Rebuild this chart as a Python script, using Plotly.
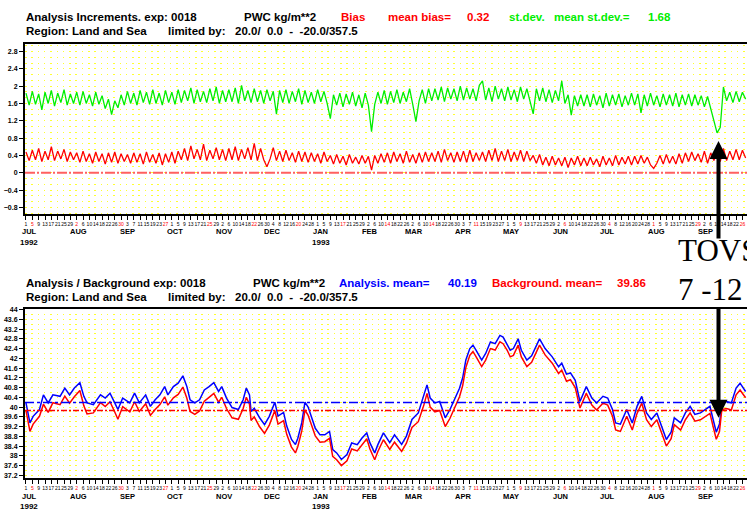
import plotly.graph_objects as go
from datetime import datetime, timedelta

W, H = 747, 511
START = datetime(1992, 7, 1)
X_RANGE = ["1992-06-30 09:00", "1993-09-28 21:00"]

# analysis increments, one sample every 2 days from 1 Jul 1992
INC_STEP_DAYS = 2
stdev_values = [
    1.84, 1.56, 1.88, 1.58, 1.82, 1.45, 1.86, 1.60, 1.90, 1.54, 1.84, 1.62, 1.92, 1.56, 1.82, 1.60,
    1.86, 1.56, 1.88, 1.60, 1.80, 1.54, 1.86, 1.58, 1.78, 1.48, 1.70, 1.34, 1.66, 1.50, 1.80, 1.56,
    1.88, 1.60, 1.84, 1.56, 1.90, 1.62, 1.86, 1.58, 1.92, 1.60, 1.84, 1.56, 1.90, 1.62, 1.86, 1.58,
    1.92, 1.62, 1.90, 1.66, 1.96, 1.60, 1.92, 1.64, 1.88, 1.62, 1.94, 1.66, 1.98, 1.60, 1.90, 1.64,
    1.92, 1.64, 1.96, 1.60, 2.02, 1.66, 1.90, 1.62, 1.94, 1.64, 1.90, 1.60, 1.92, 1.66, 1.88, 1.35,
    1.90, 1.62, 1.92, 1.60, 1.88, 1.64, 1.94, 1.58, 1.90, 1.62, 1.86, 1.60, 1.92, 1.64, 1.88, 1.60,
    1.25, 1.80, 1.56, 1.84, 1.52, 1.82, 1.58, 1.86, 1.54, 1.80, 1.50, 1.84, 1.56, 0.95, 1.58, 1.86,
    1.60, 1.90, 1.58, 1.88, 1.62, 1.92, 1.60, 1.86, 1.64, 1.94, 1.58, 1.18, 1.66, 1.92, 1.60, 1.94,
    1.66, 1.94, 1.68, 1.98, 1.64, 1.96, 1.70, 1.94, 1.66, 2.00, 1.68, 1.96, 1.70, 1.94, 1.66, 2.02,
    2.12, 1.68, 1.96, 1.64, 2.00, 1.70, 1.94, 1.66, 1.98, 1.68, 1.92, 1.64, 1.98, 1.70, 1.94, 1.66,
    1.36, 1.94, 1.66, 1.96, 1.64, 1.92, 1.62, 1.90, 1.66, 2.12, 1.60, 1.80, 1.33, 1.78, 1.54, 1.80,
    1.54, 1.80, 1.52, 1.82, 1.56, 1.78, 1.50, 1.84, 1.54, 1.80, 1.56, 1.82, 1.52, 1.78, 1.56, 1.84,
    1.56, 1.82, 1.38, 1.80, 1.54, 1.84, 1.56, 1.78, 1.52, 1.82, 1.56, 1.80, 1.54, 1.84, 1.52, 1.80,
    1.56, 1.82, 1.54, 1.80, 1.56, 1.78, 1.52, 1.76, 1.50, 1.18, 0.92, 1.05, 1.98, 1.66, 1.86, 1.62,
    1.88, 1.64, 1.86, 1.70,
]
bias_values = [
    0.48, 0.28, 0.52, 0.30, 0.56, 0.26, 0.50, 0.30, 0.60, 0.28, 0.50, 0.32, 0.54, 0.26, 0.48, 0.30,
    0.46, 0.24, 0.50, 0.26, 0.44, 0.22, 0.48, 0.26, 0.44, 0.20, 0.46, 0.24, 0.48, 0.22, 0.44, 0.26,
    0.42, 0.22, 0.46, 0.24, 0.44, 0.20, 0.48, 0.24, 0.42, 0.22, 0.46, 0.18, 0.44, 0.24, 0.48, 0.22,
    0.50, 0.30, 0.56, 0.28, 0.62, 0.32, 0.54, 0.30, 0.66, 0.28, 0.52, 0.32, 0.58, 0.30, 0.54, 0.28,
    0.56, 0.30, 0.60, 0.28, 0.54, 0.32, 0.58, 0.30, 0.68, 0.28, 0.56, 0.30, 0.14, 0.32, 0.58, 0.28,
    0.50, 0.26, 0.52, 0.28, 0.46, 0.24, 0.50, 0.26, 0.48, 0.24, 0.46, 0.26, 0.44, 0.22, 0.48, 0.26,
    0.40, 0.20, 0.42, 0.22, 0.38, 0.18, 0.42, 0.22, 0.36, 0.20, 0.40, 0.22, 0.38, 0.06, 0.40, 0.22,
    0.44, 0.24, 0.46, 0.22, 0.48, 0.26, 0.44, 0.22, 0.50, 0.24, 0.42, 0.22, 0.46, 0.24, 0.48, 0.26,
    0.46, 0.26, 0.50, 0.24, 0.54, 0.28, 0.46, 0.24, 0.48, 0.26, 0.50, 0.24, 0.52, 0.26, 0.46, 0.28,
    0.48, 0.26, 0.52, 0.28, 0.56, 0.26, 0.50, 0.28, 0.54, 0.26, 0.48, 0.28, 0.52, 0.26, 0.50, 0.28,
    0.40, 0.22, 0.42, 0.18, 0.36, 0.16, 0.38, 0.18, 0.34, 0.16, 0.36, 0.12, 0.34, 0.18, 0.38, 0.16,
    0.34, 0.16, 0.36, 0.18, 0.32, 0.14, 0.38, 0.18, 0.34, 0.16, 0.40, 0.18, 0.36, 0.20, 0.38, 0.18,
    0.38, 0.20, 0.40, 0.22, 0.36, 0.18, 0.10, 0.22, 0.40, 0.20, 0.42, 0.22, 0.38, 0.20, 0.44, 0.22,
    0.46, 0.26, 0.48, 0.28, 0.44, 0.24, 0.50, 0.22, 0.46, 0.28, 0.52, 0.26, 0.56, 0.28, 0.50, 0.30,
    0.54, 0.30, 0.52, 0.34,
]

# analysis / background, days after 1 Jul 1992
ab_days = [
    0, 2.5, 4.5, 8.5, 11, 14, 17, 21.5, 24.5, 27.5,
    30.5, 34, 36.5, 38.5, 42.5, 47, 50, 53, 56, 58,
    61, 65.5, 68.5, 71.5, 75.5, 78.5, 81.5, 84.5, 87.5, 89.5,
    93, 96, 99, 101.5, 103.5, 106.5, 109.5, 112.5, 115.5, 118.5,
    121.5, 123.5, 126.5, 130, 134, 137, 139, 141, 142, 144,
    147.5, 150.5, 153.5, 157, 159, 162.5, 164.5, 167.5, 170, 171.5,
    174, 176, 178, 180, 182.5, 185.5, 188.5, 191.5, 193.5, 196,
    199, 202.5, 205.5, 209, 212, 215, 217, 220, 222, 225.5,
    229.5, 232.5, 237, 240, 243.5, 247.5, 251, 253, 255, 258,
    261, 264.5, 267.5, 270.5, 273.5, 275.5, 277.5, 280, 282, 284,
    287.5, 290, 293, 296, 299, 301, 303.5, 305.5, 307.5, 310.5,
    312.5, 316, 319, 321, 324, 327.5, 332, 336, 338, 341,
    343.5, 346.5, 349.5, 353.5, 357, 360, 364, 367, 370, 372,
    375, 379, 382.5, 385.5, 388.5, 391.5, 394.5, 398, 401, 404,
    407, 409, 413, 416, 419, 422, 425.5, 428.5, 431.5, 433.5,
    435.5, 437.5, 439, 442, 445, 448, 450.5, 454,
]
analysis_values = [
    40.17, 39.35, 39.62, 39.90, 40.50, 40.17, 40.50, 40.44, 40.78, 40.50,
    40.78, 41.00, 40.44, 40.17, 40.10, 40.50, 40.37, 40.57, 40.17, 39.90,
    40.37, 40.17, 40.57, 40.17, 40.50, 40.03, 40.30, 40.50, 40.84, 40.50,
    40.84, 40.98, 41.28, 40.84, 40.30, 40.17, 40.30, 40.70, 40.84, 41.00,
    40.64, 40.84, 40.37, 39.98, 39.90, 40.30, 40.78, 40.50, 39.82, 39.95,
    39.55, 39.28, 39.62, 40.20, 39.63, 39.78, 39.22, 38.67, 38.46, 38.72,
    39.36, 40.20, 40.00, 39.63, 39.13, 38.86, 38.86, 39.00, 38.26, 38.12,
    37.85, 38.05, 38.53, 38.46, 38.73, 38.94, 38.53, 38.12, 38.46, 38.94,
    38.54, 38.86, 38.47, 38.81, 39.49, 39.76, 40.44, 40.91, 40.37, 40.17,
    40.23, 39.56, 39.90, 40.37, 40.77, 41.20, 41.93, 42.40, 42.54, 42.33,
    41.93, 42.20, 42.67, 42.60, 42.94, 42.87, 42.60, 42.33, 42.40, 42.80,
    42.33, 41.93, 42.10, 42.38, 42.80, 42.40, 42.06, 41.65, 41.80, 41.35,
    41.40, 41.10, 40.23, 40.84, 40.37, 40.17, 40.44, 40.37, 39.90, 39.35,
    39.30, 39.90, 39.35, 40.03, 40.44, 39.76, 39.49, 39.76, 39.22, 38.67,
    38.97, 39.56, 39.35, 39.76, 40.03, 39.70, 39.76, 39.90, 40.03, 39.49,
    38.97, 39.30, 40.17, 40.23, 40.17, 40.78, 40.98, 40.64,
]
background_values = [
    39.85, 39.00, 39.30, 39.62, 40.12, 39.78, 40.18, 40.10, 40.45, 40.16,
    40.42, 40.68, 40.05, 39.72, 39.76, 40.18, 40.02, 40.22, 39.80, 39.50,
    40.02, 39.80, 40.22, 39.82, 40.14, 39.66, 39.90, 40.10, 40.42, 40.08,
    40.38, 40.52, 40.82, 40.36, 39.82, 39.70, 39.84, 40.24, 40.40, 40.56,
    40.20, 40.40, 39.94, 39.56, 39.50, 39.94, 40.40, 40.12, 39.45, 39.60,
    39.18, 38.92, 39.26, 39.86, 39.30, 39.44, 38.88, 38.36, 38.12, 38.38,
    39.02, 39.88, 39.66, 39.30, 38.82, 38.56, 38.58, 38.72, 37.98, 37.84,
    37.60, 37.80, 38.28, 38.20, 38.46, 38.70, 38.28, 37.84, 38.18, 38.66,
    38.26, 38.56, 38.18, 38.52, 39.16, 39.40, 40.08, 40.56, 40.00, 39.80,
    39.86, 39.20, 39.54, 40.00, 40.42, 40.88, 41.62, 42.12, 42.28, 42.06,
    41.66, 41.92, 42.40, 42.34, 42.68, 42.60, 42.34, 42.06, 42.12, 42.54,
    42.06, 41.66, 41.84, 42.12, 42.54, 42.14, 41.80, 41.38, 41.52, 41.06,
    41.12, 40.80, 39.96, 40.56, 40.08, 39.88, 40.16, 40.08, 39.62, 39.06,
    39.00, 39.62, 39.06, 39.74, 40.16, 39.48, 39.20, 39.48, 38.94, 38.40,
    38.70, 39.28, 39.06, 39.48, 39.76, 39.42, 39.48, 39.62, 39.74, 39.20,
    38.68, 39.00, 39.90, 39.94, 39.88, 40.50, 40.70, 40.38,
]

MEAN_BIAS = 0.32
MEAN_STDEV = 1.68
MEAN_ANALYSIS = 40.19
MEAN_BACKGROUND = 39.86

MONTHS = ["JUL", "AUG", "SEP", "OCT", "NOV", "DEC", "JAN", "FEB",
          "MAR", "APR", "MAY", "JUN", "JUL", "AUG", "SEP"]
YEARS = {0: "1992", 6: "1993"}

GREEN = "#00ee00"
RED = "#ff0000"
BLUE = "#0000ff"
FONT = "Liberation Sans"


def px(x):
    return x / W


def py(y):
    return 1 - y / H


def day(d):
    return START + timedelta(days=d)


def add_text(fig, x, y, text, color="black", size=11.5):
    # annotations pad their text by ~2px, so shift the anchor left
    fig.add_annotation(
        xref="paper", yref="paper", x=px(x - 2), y=py(y), text=f"<b>{text}</b>",
        showarrow=False, xanchor="left", yanchor="middle",
        font=dict(family=FONT, size=size, color=color),
    )


def day_ticks():
    """Tick every 4 days, every 7th one in red."""
    vals, text = [], []
    d, i = START, 0
    while d <= datetime(1993, 9, 28):
        vals.append(d)
        label = str(d.day)
        if i % 7 == 1:
            label = f"<span style='color:red'>{label}</span>"
        text.append(label)
        d += timedelta(days=4)
        i += 1
    return vals, text


def add_months(fig, xref, y_month, y_year):
    for i, name in enumerate(MONTHS):
        m = 7 + i
        mdate = datetime(1992 + (m - 1) // 12, (m - 1) % 12 + 1, 3)
        fig.add_annotation(
            xref=xref, yref="paper", x=mdate, y=py(y_month), text=f"<b>{name}</b>",
            showarrow=False, xanchor="center", yanchor="middle",
            font=dict(family=FONT, size=7.5, color="black"),
        )
        if i in YEARS:
            fig.add_annotation(
                xref=xref, yref="paper", x=mdate, y=py(y_year), text=f"<b>{YEARS[i]}</b>",
                showarrow=False, xanchor="center", yanchor="middle",
                font=dict(family=FONT, size=8, color="black"),
            )


fig = go.Figure()

inc_dates = [day(INC_STEP_DAYS * i) for i in range(len(stdev_values))]
ab_dates = [day(d) for d in ab_days]

fig.add_trace(go.Scatter(x=inc_dates, y=stdev_values, mode="lines",
                         line=dict(color=GREEN, width=1.3), xaxis="x", yaxis="y"))
fig.add_trace(go.Scatter(x=inc_dates, y=bias_values, mode="lines",
                         line=dict(color=RED, width=1.3), xaxis="x", yaxis="y"))
fig.add_trace(go.Scatter(x=ab_dates, y=analysis_values, mode="lines",
                         line=dict(color=BLUE, width=1.5), xaxis="x2", yaxis="y2"))
fig.add_trace(go.Scatter(x=ab_dates, y=background_values, mode="lines",
                         line=dict(color=RED, width=1.5), xaxis="x2", yaxis="y2"))

# reference lines
fig.add_shape(type="line", xref="x domain", yref="y", x0=0, x1=1, y0=0, y1=0,
              line=dict(color="#ff6060", width=2, dash="10px,2px,2px,2px"))
fig.add_shape(type="line", xref="x2 domain", yref="y2", x0=0, x1=1,
              y0=MEAN_ANALYSIS, y1=MEAN_ANALYSIS,
              line=dict(color=BLUE, width=1.5, dash="dashdot"))
fig.add_shape(type="line", xref="x2 domain", yref="y2", x0=0, x1=1,
              y0=MEAN_BACKGROUND, y1=MEAN_BACKGROUND,
              line=dict(color=RED, width=1.5, dash="6px,2px,2px,2px"))

tick_vals, tick_text = day_ticks()
dots = dict(gridcolor="#ffff30", griddash="1.5px,4.8px", gridwidth=1.3)

xstyle = dict(
    type="date", range=X_RANGE, showgrid=False, zeroline=False,
    showline=True, linecolor="black", linewidth=2, mirror=True,
    ticks="outside", ticklen=4, tickwidth=1, tickcolor="black",
    tickvals=tick_vals, ticktext=tick_text, tickangle=0,
    tickfont=dict(family=FONT, size=5, color="black"),
)
ystyle = dict(
    showline=True, linecolor="black", linewidth=2, zeroline=False,
    ticks="outside", ticklen=4, tickwidth=1, tickcolor="black",
    tickfont=dict(family=FONT, size=7, color="black", weight="bold"),
    showgrid=True, **dots,
)

fig.update_layout(
    width=W, height=H, margin=dict(l=0, r=0, t=0, b=0),
    paper_bgcolor="white", plot_bgcolor="white", showlegend=False,
    xaxis=dict(domain=[px(25), 1], anchor="y", **xstyle),
    yaxis=dict(domain=[py(213), py(41)], anchor="x", range=[-0.96, 2.98],
               tick0=0, dtick=0.4, minor=dict(dtick=0.4 / 3, showgrid=True, **dots),
               **ystyle),
    xaxis2=dict(domain=[px(25), 1], anchor="y2", **xstyle),
    yaxis2=dict(domain=[py(479), py(308)], anchor="x2", range=[37.08, 44.04],
                tick0=37.2, dtick=0.4, minor=dict(dtick=0.2, showgrid=True, **dots),
                **ystyle),
)

# titles, top panel
add_text(fig, 26, 14, "Analysis Increments. exp: 0018")
add_text(fig, 244, 14, "PWC kg/m**2")
add_text(fig, 341, 14, "Bias", RED)
add_text(fig, 388, 14, "mean bias=", RED)
add_text(fig, 467, 14, f"{MEAN_BIAS:.2f}", RED)
add_text(fig, 509, 14, "st.dev.", GREEN)
add_text(fig, 554, 14, "mean st.dev.=", GREEN)
add_text(fig, 648, 14, f"{MEAN_STDEV:.2f}", GREEN)
add_text(fig, 26, 28, "Region: Land and Sea")
add_text(fig, 168, 28, "limited by:")
add_text(fig, 235, 28, "20.0/&nbsp;&nbsp;0.0&nbsp;&nbsp;-&nbsp;&nbsp;-20.0/357.5")

# titles, bottom panel
add_text(fig, 26, 282, "Analysis / Background exp: 0018")
add_text(fig, 253, 282, "PWC kg/m**2")
add_text(fig, 339, 282, "Analysis. mean=", BLUE)
add_text(fig, 448, 282, f"{MEAN_ANALYSIS:.2f}", BLUE)
add_text(fig, 492, 282, "Background. mean=", RED)
add_text(fig, 617, 282, f"{MEAN_BACKGROUND:.2f}", RED)
add_text(fig, 26, 296, "Region: Land and Sea")
add_text(fig, 168, 296, "limited by:")
add_text(fig, 235, 296, "20.0/&nbsp;&nbsp;0.0&nbsp;&nbsp;-&nbsp;&nbsp;-20.0/357.5")

add_months(fig, "x", 230, 241)
add_months(fig, "x2", 497, 507)

# TOVS marker
for text, y in (("TOVS", 249), ("7 -12", 289)):
    fig.add_annotation(
        xref="paper", yref="paper", x=px(676), y=py(y), text=text, showarrow=False,
        xanchor="left", yanchor="middle",
        font=dict(family="Liberation Serif", size=31, color="black"),
    )
for tip, tail in ((139, 238), (418, 306)):
    fig.add_annotation(
        xref="paper", yref="paper", x=px(718.5), y=py(tip), text="",
        showarrow=True, ax=0, ay=tail - tip, arrowhead=2, arrowsize=0.9,
        arrowwidth=4, arrowcolor="black", standoff=0,
    )

fig.write_html("out.html", config={"displayModeBar": False},
               post_script="document.body.style.margin = '0';")
